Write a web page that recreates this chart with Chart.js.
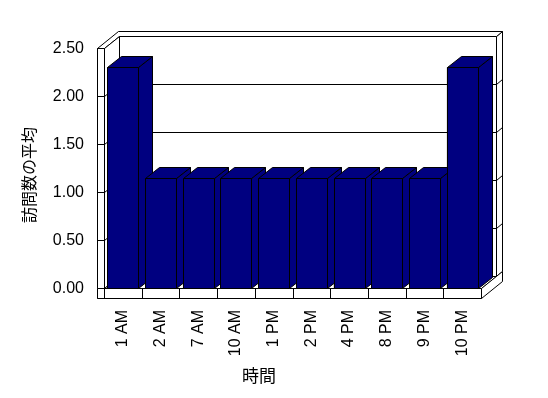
<!DOCTYPE html>
<html>
<head>
<meta charset="utf-8">
<script src="https://cdn.jsdelivr.net/npm/chart.js@4.4.1/dist/chart.umd.min.js"></script>
<style>
  html, body { margin: 0; padding: 0; background: #fff; }
  #wrap { width: 548px; height: 398px; }
</style>
</head>
<body>
<div id="wrap"><canvas id="chart"></canvas></div>
<script>
'use strict';

// données du graphique
const hours = ['1 AM', '2 AM', '7 AM', '10 AM', '1 PM', '2 PM', '4 PM', '8 PM', '9 PM', '10 PM'];
const avgVisits = [2.3, 1.15, 1.15, 1.15, 1.15, 1.15, 1.15, 1.15, 1.15, 2.3];
const yTicks = [0, 0.5, 1, 1.5, 2, 2.5];
const xTitle = '時間';
const yTitle = '訪問数の平均';

// effet 3D (style Excel)
const depth = { x: 15, y: -12 };
const barDepth = { x: 14, y: -11 };
const backWall = { x: 6, y: -5 };
const wallThick = 7;
const floorThick = 10;

const latin = { family: '"Liberation Sans", Arial, sans-serif', size: 16 };
const cjkFont = '16px "Noto Sans CJK JP", sans-serif';
const cjkFontX = '17px "Noto Sans CJK JP", sans-serif';

function poly(ctx, pts, fill) {
    ctx.beginPath();
    pts.forEach(([px, py], i) => i ? ctx.lineTo(px, py) : ctx.moveTo(px, py));
    ctx.closePath();
    if (fill) {
        ctx.fillStyle = fill;
        ctx.fill();
    }
    ctx.stroke();
}

function line(ctx, x1, y1, x2, y2) {
    ctx.beginPath();
    ctx.moveTo(x1, y1);
    ctx.lineTo(x2, y2);
    ctx.stroke();
}

const box3d = {
    id: 'box3d',
    beforeDatasetsDraw(chart) {
        const ctx = chart.ctx;
        const a = chart.chartArea;
        const L = Math.round(a.left) + 0.5, R = Math.round(a.right) + 0.5;
        const T = Math.round(a.top) + 0.5, B = Math.round(a.bottom) + 0.5;
        const dx = depth.x, dy = depth.y, bx = backWall.x, by = backWall.y;
        const yScale = chart.scales.y;

        ctx.save();
        ctx.strokeStyle = '#000';
        ctx.lineWidth = 1;

        // mur du fond : face droite, dessus, face avant
        poly(ctx, [[R + dx, T + dy], [R + dx + bx, T + dy + by], [R + dx + bx, B + dy + by], [R + dx, B + dy]], '#fff');
        poly(ctx, [[L - wallThick, T], [L - wallThick + dx + bx, T + dy + by], [R + dx + bx, T + dy + by],
            [R + dx, T + dy], [L + dx, T + dy], [L, T]], '#fff');
        poly(ctx, [[L + dx, T + dy], [R + dx, T + dy], [R + dx, B + dy], [L + dx, B + dy]], '#fff');
        // mur gauche, face intérieure
        poly(ctx, [[L, T], [L + dx, T + dy], [L + dx, B + dy], [L, B]], '#fff');

        // quadrillage
        yTicks.slice(1, -1).forEach(v => {
            const py = Math.round(yScale.getPixelForValue(v)) + 0.5;
            ctx.beginPath();
            ctx.moveTo(L, py);
            ctx.lineTo(L + dx, py + dy);
            ctx.lineTo(R + dx, py + dy);
            ctx.lineTo(R + dx + bx, py + dy + by);
            ctx.stroke();
        });

        // mur gauche, face avant
        poly(ctx, [[L - wallThick, T], [L, T], [L, B + floorThick], [L - wallThick, B + floorThick]], '#fff');
        yTicks.forEach(v => {
            const py = Math.round(yScale.getPixelForValue(v)) + 0.5;
            line(ctx, L - wallThick, py, L, py);
        });

        // plancher
        poly(ctx, [[L, B], [R, B], [R + dx, B + dy], [L + dx, B + dy]], '#fff');
        poly(ctx, [[L - wallThick, B], [R, B], [R, B + floorThick], [L - wallThick, B + floorThick]], '#fff');
        poly(ctx, [[R, B], [R + dx + bx, B + dy + by], [R + dx + bx, B + floorThick + dy + by], [R, B + floorThick]], '#fff');
        const xScale = chart.scales.x;
        const step = (a.right - a.left) / hours.length;
        for (let i = 0; i < hours.length; i++) {
            const px = Math.round(xScale.getPixelForValue(i) - step / 2) + 0.5;
            line(ctx, px, B, px, B + floorThick);
        }
        ctx.restore();
    },
    afterDatasetsDraw(chart) {
        const ctx = chart.ctx;
        const meta = chart.getDatasetMeta(0);
        const dx = barDepth.x, dy = barDepth.y;
        ctx.save();
        ctx.strokeStyle = '#000';
        ctx.lineWidth = 1;
        meta.data.forEach(bar => {
            const p = bar.getProps(['x', 'y', 'base', 'width'], true);
            const l = Math.round(p.x - p.width / 2) + 0.5;
            const r = Math.round(p.x + p.width / 2) + 0.5;
            const t = Math.round(p.y) + 0.5;
            const b = Math.round(p.base) + 0.5;
            poly(ctx, [[r, t], [r + dx, t + dy], [r + dx, b + dy], [r, b]], '#000080');
            poly(ctx, [[l, t], [l + dx, t + dy], [r + dx, t + dy], [r, t]], '#000080');
            poly(ctx, [[l, t], [r, t], [r, b], [l, b]], '#000080');
        });
        ctx.restore();
    },
    afterDraw(chart) {
        // titres des axes (placés comme dans Excel, pas centrés sur la zone)
        const ctx = chart.ctx;
        ctx.save();
        ctx.fillStyle = '#000';
        ctx.textAlign = 'center';
        ctx.textBaseline = 'middle';
        ctx.font = cjkFontX;
        ctx.fillText(xTitle, 259, 376);
        ctx.translate(29, 175);
        ctx.rotate(-Math.PI / 2);
        ctx.font = cjkFont;
        ctx.fillText(yTitle, 0, 0);
        ctx.restore();
    }
};

new Chart(document.getElementById('chart'), {
    type: 'bar',
    data: {
        labels: hours,
        datasets: [{
            label: yTitle,
            data: avgVisits,
            backgroundColor: '#000080',
            borderColor: '#000',
            borderWidth: 1,
            barPercentage: 0.82,
            categoryPercentage: 1
        }]
    },
    options: {
        responsive: true,
        maintainAspectRatio: false,
        animation: false,
        layout: { padding: { top: 48, right: 67, left: 0, bottom: 0 } },
        plugins: {
            legend: { display: false },
            tooltip: { enabled: false }
        },
        scales: {
            x: {
                grid: { display: false, drawTicks: false },
                border: { display: false },
                ticks: { color: '#000', font: latin, minRotation: 90, maxRotation: 90, padding: 22, autoSkip: false },
                afterFit(scale) { scale.height = 110; }
            },
            y: {
                min: 0,
                max: 2.5,
                grid: { display: false, drawTicks: false },
                border: { display: false },
                ticks: { color: '#000', font: latin, stepSize: 0.5, padding: 20, labelOffset: 1, callback: v => v.toFixed(2) },
                afterFit(scale) { scale.width = 104; }
            }
        }
    },
    plugins: [box3d]
});
</script>
</body>
</html>
